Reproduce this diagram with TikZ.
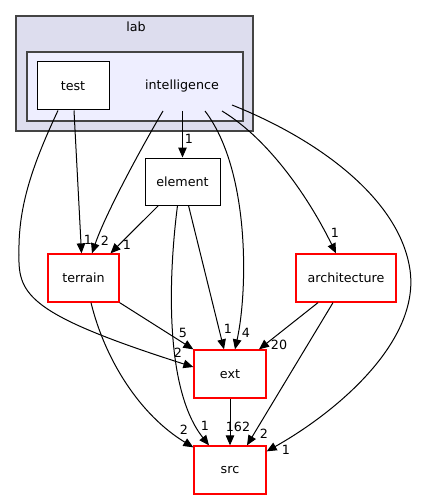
\documentclass[tikz,border=0pt]{standalone}
\usepackage{fontspec}
\setmainfont{DejaVu Sans}
\usetikzlibrary{arrows.meta}

\definecolor{labfill}{HTML}{DDDDEE}
\definecolor{intelfill}{HTML}{EEEEFF}
\definecolor{clusterline}{HTML}{444444}

\tikzstyle{arrow} = [line width=1pt, -{Triangle[length=10pt,width=8.5pt]}]
\tikzstyle{dir_box} = [rectangle, minimum height=48pt, inner sep=0pt, draw=black, fill=white, line width=1pt]
\tikzstyle{ext_box} = [dir_box, draw=red, line width=1.3pt]
\tikzstyle{cluster_box} = [rectangle, inner sep=0pt, draw=clusterline, line width=1.3pt]
\tikzstyle{edge_label} = [inner sep=0pt]

\begin{document}
\begin{tikzpicture}[x=1pt, y=-1pt, font=\fontsize{12.7}{14}\selectfont]
        \useasboundingbox (0,0) rectangle (420,500);

        \node (lab) [cluster_box, fill=labfill, minimum width=237pt, minimum height=115pt] at (134.5,73.5) {};
        \node (lab_label) at (136,27) {lab};
        \node (intelligence) [cluster_box, fill=intelfill, minimum width=216pt, minimum height=69pt] at (135,86.5) {};
        \node (intelligence_label) at (182,86) {intelligence};
        \node (test) [dir_box, minimum width=72pt] at (73,86) {test};
        \node (element) [dir_box, minimum width=75pt, minimum height=47pt] at (182.5,181.5) {element};
        \node (terrain) [ext_box, minimum width=71pt] at (83.5,278) {terrain};
        \node (architecture) [ext_box, minimum width=100pt] at (346,278) {architecture};
        \node (ext) [ext_box, minimum width=72pt] at (230,374) {ext};
        \node (src) [ext_box, minimum width=72pt] at (230,470) {src};

        \coordinate (intel_terrain) at (163,111);
        \coordinate (intel_element) at (182.5,111);
        \coordinate (intel_ext) at (205,111);
        \coordinate (intel_arch) at (222,111);
        \coordinate (intel_src) at (232,105);

        \draw [arrow] (intel_element) -- (element.north);
        \draw [arrow] (intel_terrain) .. controls (140,150) and (105,215) .. ([xshift=8.5pt]terrain.north);
        \draw [arrow] ([xshift=1pt]test.south) -- ([xshift=-2pt]terrain.north);
        \draw [arrow] ([xshift=-24pt]element.south) -- ([xshift=27pt]terrain.north);
        \draw [arrow] ([xshift=-15pt]test.south) .. controls (30,170) and (18,210) .. (19,255) .. controls (18,295) and (30,315) .. ([yshift=7pt]ext.west);
        \draw [arrow] (intel_ext) .. controls (250,170) and (248,290) .. ([xshift=5pt]ext.north);
        \draw [arrow] ([xshift=6pt]element.south) -- ([xshift=-6pt]ext.north);
        \draw [arrow] ([xshift=-5pt]element.south) .. controls (168,280) and (165,390) .. ([xshift=-21pt]src.north);
        \draw [arrow] (intel_arch) .. controls (270,140) and (310,200) .. ([xshift=-10pt]architecture.north);
        \draw [arrow] (intel_src) .. controls (320,140) and (400,200) .. (410,270) .. controls (420,340) and (340,410) .. ([yshift=-6pt]src.north east);
        \draw [arrow] (terrain.south east) -- (ext.north west);
        \draw [arrow] ([xshift=7.5pt]terrain.south) .. controls (105,360) and (140,415) .. ([yshift=-2pt]src.north west);
        \draw [arrow] ([xshift=-28pt]architecture.south) -- ([xshift=29pt]ext.north);
        \draw [arrow] ([xshift=-13pt]architecture.south) -- ([xshift=17pt]src.north);
        \draw [arrow] (ext.south) -- (src.north);

        \node (lbl_intel_element) [edge_label] at (189,139) {1};
        \node (lbl_intel_terrain) [edge_label] at (105,241) {2};
        \node (lbl_test_terrain) [edge_label] at (88,240) {1};
        \node (lbl_element_terrain) [edge_label] at (127,245) {1};
        \node (lbl_test_ext) [edge_label] at (178,353) {2};
        \node (lbl_intel_ext) [edge_label] at (246,333) {4};
        \node (lbl_element_ext) [edge_label] at (228,329) {1};
        \node (lbl_element_src) [edge_label] at (205,426) {1};
        \node (lbl_intel_arch) [edge_label] at (335,233) {1};
        \node (lbl_intel_src) [edge_label] at (286,450) {1};
        \node (lbl_terrain_ext) [edge_label] at (183,333) {5};
        \node (lbl_terrain_src) [edge_label] at (184,430) {2};
        \node (lbl_arch_ext) [edge_label] at (279,345) {20};
        \node (lbl_arch_src) [edge_label] at (264,434) {2};
        \node (lbl_ext_src) [edge_label] at (238,427) {162};
    \end{tikzpicture}
\end{document}
